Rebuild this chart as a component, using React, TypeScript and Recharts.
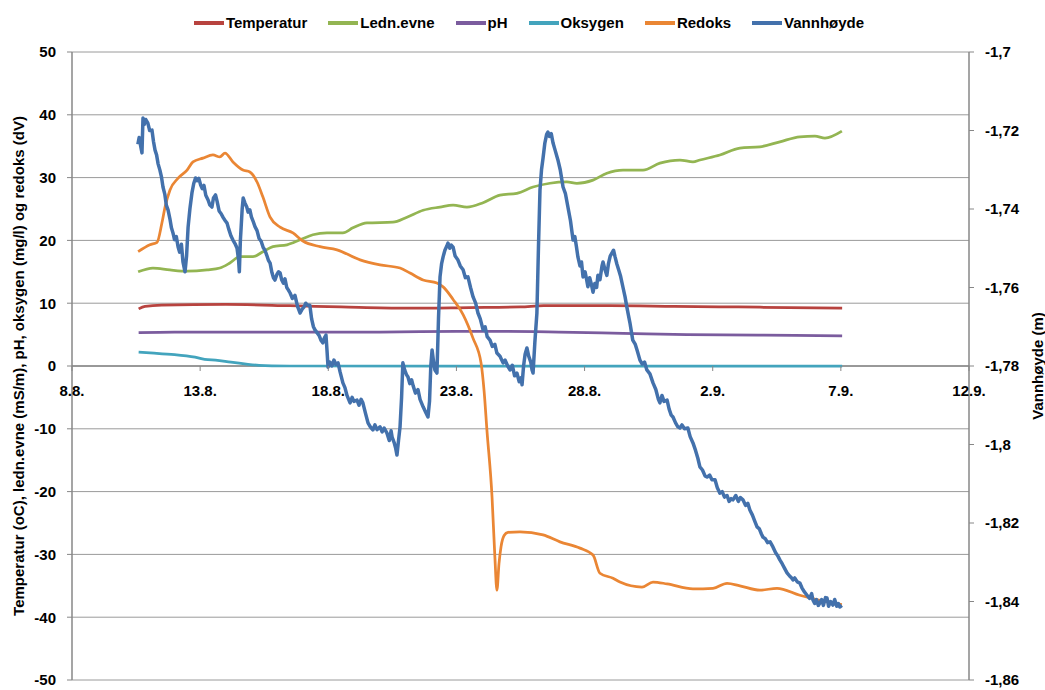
import React from "react";
import { CartesianGrid, Legend, Line, LineChart, ReferenceLine, XAxis, YAxis } from "recharts";

const FONT = '"Liberation Sans", Arial, sans-serif';

// x = days after 8.8.
const dateTicks = [0, 5, 10, 15, 20, 25, 30, 35];
const dateLabels = ["8.8.", "13.8.", "18.8.", "23.8.", "28.8.", "2.9.", "7.9.", "12.9."];
const leftTicks = [-50, -40, -30, -20, -10, 0, 10, 20, 30, 40, 50];
const rightTicks = [-1.86, -1.84, -1.82, -1.8, -1.78, -1.76, -1.74, -1.72, -1.7];

const temperaturPoints: [number, number][] = [
  [2.6, 9.1], [2.85, 9.5], [3.5, 9.7], [6, 9.8], [8.5, 9.6], [10.5, 9.4], [13, 9.2], [15.5, 9.3],
  [17.5, 9.4], [18.4, 9.6], [21, 9.6], [23.5, 9.5], [26, 9.4], [28, 9.3], [30.05, 9.2],
];

const lednevnePoints: [number, number][] = [
  [2.58, 15.0], [3.16, 15.6], [3.82, 15.3], [4.49, 15.1], [5.27, 15.3], [5.77, 15.6], [6.16, 16.4],
  [6.55, 17.4], [7.06, 17.4], [7.45, 18.2], [7.84, 19.0], [8.39, 19.3], [8.9, 20.1], [9.4, 20.9],
  [9.95, 21.2], [10.57, 21.2], [10.96, 22.0], [11.51, 22.8], [12.52, 22.9], [13.07, 23.7],
  [13.7, 24.8], [14.36, 25.3], [14.87, 25.6], [15.41, 25.3], [16.04, 26.0], [16.7, 27.2],
  [17.36, 27.5], [17.99, 28.5], [18.65, 29.1], [19.31, 29.3], [19.7, 29.1], [20.33, 29.6],
  [20.87, 30.7], [21.5, 31.2], [22.28, 31.2], [22.94, 32.3], [23.72, 32.8], [24.23, 32.5],
  [24.5, 32.8], [25.28, 33.6], [26.06, 34.7], [26.84, 34.9], [27.62, 35.7], [28.4, 36.5],
  [28.99, 36.6], [29.38, 36.3], [30.04, 37.4],
];

const phPoints: [number, number][] = [
  [2.6, 5.3], [4, 5.4], [8, 5.4], [12, 5.4], [15, 5.5], [17, 5.5], [19, 5.4], [21.5, 5.2],
  [24, 5.0], [27, 4.9], [30.05, 4.8],
];

const oksygenPoints: [number, number][] = [
  [2.6, 2.2], [3.2, 2.05], [4, 1.8], [4.8, 1.4], [5.3, 1.0], [5.6, 0.95], [6.2, 0.6], [6.8, 0.3],
  [7.3, 0.1], [7.8, 0.02], [8.5, 0], [15, 0], [20, 0], [25, 0], [30.05, 0],
];

const redoksPoints: [number, number][] = [
  [2.58, 18.2], [3.04, 19.3], [3.32, 19.7], [3.51, 22.8], [3.63, 25.3], [3.82, 28.0], [4.14, 29.9],
  [4.49, 31.2], [4.72, 32.5], [5.11, 33.1], [5.5, 33.6], [5.77, 33.3], [5.97, 33.9], [6.28, 32.5],
  [6.67, 31.2], [6.94, 30.9], [7.22, 29.3], [7.45, 26.9], [7.73, 23.7], [8.12, 22.1], [8.62, 21.2],
  [9.01, 19.9], [9.68, 19.0], [10.34, 18.5], [11.24, 16.9], [12.02, 16.1], [12.8, 15.6],
  [13.19, 14.8], [13.7, 13.7], [14.24, 13.2], [14.48, 12.6], [14.87, 10.6], [15.26, 8.2],
  [15.65, 4.4], [15.96, 0.5], [16.08, -4.0], [16.19, -10.2], [16.39, -20.9], [16.5, -30.4],
  [16.58, -35.7], [16.66, -31.5], [16.74, -28.8], [16.86, -27.0], [17.01, -26.5], [17.48, -26.4],
  [18.38, -26.9], [19.04, -28.0], [19.82, -29.0], [20.33, -30.1], [20.6, -33.0], [21.11, -33.8],
  [21.38, -34.4], [22.24, -35.2], [22.67, -34.4], [23.22, -34.7], [24.23, -35.5], [25.01, -35.4],
  [25.56, -34.6], [26.06, -35.0], [26.84, -35.7], [27.51, -35.4], [28.4, -36.5], [29.18, -37.3],
  [30.04, -38.0],
];

const vannhoydePoints: [number, number][] = [
  [2.57, -1.7235], [2.62, -1.7218], [2.68, -1.724], [2.73, -1.7257], [2.77, -1.7168], [2.82, -1.7185],
  [2.88, -1.7172], [2.96, -1.7181], [3.03, -1.72], [3.12, -1.7199], [3.18, -1.7228], [3.24, -1.725],
  [3.3, -1.7262], [3.36, -1.7285], [3.43, -1.7301], [3.49, -1.7318], [3.55, -1.7344], [3.62, -1.7362],
  [3.68, -1.739], [3.75, -1.7403], [3.82, -1.7425], [3.88, -1.7448], [3.94, -1.7461], [4.0, -1.7478],
  [4.07, -1.747], [4.14, -1.7497], [4.2, -1.751], [4.27, -1.749], [4.33, -1.7535], [4.41, -1.756],
  [4.47, -1.752], [4.53, -1.7446], [4.6, -1.74], [4.68, -1.7359], [4.75, -1.7335], [4.82, -1.7321],
  [4.88, -1.7328], [4.95, -1.7322], [5.02, -1.7339], [5.08, -1.7348], [5.15, -1.734], [5.22, -1.7365],
  [5.31, -1.7377], [5.38, -1.739], [5.46, -1.7395], [5.52, -1.7372], [5.6, -1.7364], [5.66, -1.738],
  [5.74, -1.7405], [5.82, -1.7412], [5.9, -1.7422], [5.98, -1.743], [6.05, -1.7436], [6.12, -1.7452],
  [6.2, -1.7468], [6.28, -1.7479], [6.36, -1.7488], [6.44, -1.75], [6.5, -1.753], [6.53, -1.756],
  [6.57, -1.748], [6.6, -1.7446], [6.64, -1.74], [6.68, -1.7372], [6.75, -1.7385], [6.82, -1.7395],
  [6.87, -1.7408], [6.94, -1.7402], [7.0, -1.742], [7.06, -1.743], [7.14, -1.7445], [7.22, -1.7455],
  [7.3, -1.7475], [7.38, -1.7482], [7.46, -1.7498], [7.53, -1.7505], [7.6, -1.7518], [7.66, -1.753],
  [7.73, -1.7538], [7.8, -1.7562], [7.86, -1.7575], [7.92, -1.7581], [8.0, -1.7566], [8.06, -1.756],
  [8.12, -1.7563], [8.18, -1.758], [8.25, -1.7589], [8.31, -1.7578], [8.38, -1.76], [8.44, -1.7606],
  [8.51, -1.7614], [8.6, -1.7628], [8.7, -1.762], [8.8, -1.7648], [8.9, -1.7665], [8.98, -1.7655],
  [9.05, -1.765], [9.12, -1.764], [9.2, -1.7645], [9.28, -1.7645], [9.35, -1.768], [9.42, -1.77],
  [9.48, -1.7708], [9.56, -1.7715], [9.64, -1.7722], [9.72, -1.7735], [9.79, -1.7741], [9.85, -1.7728],
  [9.91, -1.7721], [9.95, -1.776], [9.99, -1.7803], [10.06, -1.779], [10.14, -1.78], [10.22, -1.7785],
  [10.3, -1.7796], [10.38, -1.7792], [10.46, -1.7815], [10.57, -1.7843], [10.65, -1.7855], [10.73, -1.7875],
  [10.85, -1.7894], [10.93, -1.788], [11.0, -1.789], [11.12, -1.7887], [11.2, -1.79], [11.28, -1.7885],
  [11.35, -1.7894], [11.45, -1.792], [11.55, -1.7945], [11.64, -1.7955], [11.74, -1.7963], [11.82, -1.795],
  [11.9, -1.7962], [12.02, -1.7955], [12.1, -1.7968], [12.18, -1.7958], [12.29, -1.7971], [12.38, -1.799],
  [12.45, -1.7965], [12.49, -1.7981], [12.57, -1.7995], [12.63, -1.801], [12.68, -1.8027], [12.74, -1.799],
  [12.8, -1.7955], [12.86, -1.788], [12.91, -1.7792], [12.98, -1.781], [13.05, -1.7822], [13.11, -1.7828],
  [13.18, -1.7845], [13.25, -1.7835], [13.31, -1.785], [13.4, -1.7869], [13.5, -1.786], [13.58, -1.7885],
  [13.7, -1.7904], [13.8, -1.7918], [13.89, -1.793], [13.95, -1.789], [14.0, -1.78], [14.05, -1.7759],
  [14.1, -1.7785], [14.16, -1.781], [14.24, -1.7818], [14.3, -1.768], [14.36, -1.7573], [14.42, -1.754],
  [14.48, -1.7522], [14.55, -1.7505], [14.62, -1.7495], [14.67, -1.7487], [14.74, -1.75], [14.8, -1.7492],
  [14.87, -1.7497], [14.95, -1.752], [15.06, -1.753], [15.15, -1.7545], [15.26, -1.7555], [15.35, -1.7575],
  [15.45, -1.7573], [15.55, -1.76], [15.65, -1.7624], [15.75, -1.764], [15.84, -1.7665], [15.93, -1.768],
  [16.04, -1.7708], [16.12, -1.77], [16.2, -1.7725], [16.31, -1.7734], [16.4, -1.775], [16.5, -1.7745],
  [16.58, -1.7767], [16.7, -1.7775], [16.82, -1.7792], [16.9, -1.7785], [17.0, -1.78], [17.09, -1.781],
  [17.18, -1.7798], [17.27, -1.7825], [17.36, -1.7818], [17.45, -1.784], [17.52, -1.783], [17.56, -1.7848],
  [17.62, -1.78], [17.68, -1.777], [17.75, -1.7754], [17.82, -1.7775], [17.9, -1.779], [17.95, -1.781],
  [17.99, -1.7818], [18.06, -1.774], [18.14, -1.7665], [18.2, -1.75], [18.26, -1.7352], [18.32, -1.73],
  [18.38, -1.727], [18.45, -1.7232], [18.52, -1.721], [18.57, -1.7204], [18.63, -1.7215], [18.7, -1.7208],
  [18.77, -1.7232], [18.85, -1.725], [18.96, -1.7275], [19.05, -1.73], [19.16, -1.7344], [19.25, -1.736],
  [19.35, -1.7395], [19.45, -1.743], [19.55, -1.7479], [19.62, -1.747], [19.68, -1.7495], [19.74, -1.7522],
  [19.82, -1.7545], [19.88, -1.7535], [19.94, -1.7573], [20.02, -1.756], [20.08, -1.758], [20.13, -1.7598],
  [20.2, -1.7575], [20.26, -1.759], [20.33, -1.7612], [20.4, -1.759], [20.47, -1.76], [20.52, -1.7569],
  [20.6, -1.758], [20.68, -1.7545], [20.72, -1.7535], [20.8, -1.7555], [20.87, -1.7569], [20.93, -1.754],
  [21.0, -1.752], [21.07, -1.7512], [21.13, -1.7505], [21.19, -1.7522], [21.26, -1.754], [21.33, -1.7555],
  [21.4, -1.757], [21.5, -1.76], [21.58, -1.7624], [21.65, -1.765], [21.77, -1.769], [21.88, -1.7734],
  [21.98, -1.7745], [22.05, -1.776], [22.16, -1.7785], [22.25, -1.7795], [22.34, -1.779], [22.43, -1.781],
  [22.55, -1.782], [22.67, -1.7843], [22.78, -1.786], [22.88, -1.7885], [22.94, -1.7894], [23.02, -1.7875],
  [23.1, -1.789], [23.22, -1.7887], [23.3, -1.791], [23.38, -1.7925], [23.45, -1.793], [23.55, -1.7945],
  [23.64, -1.7955], [23.72, -1.7958], [23.8, -1.795], [23.9, -1.796], [24.03, -1.7958], [24.12, -1.798],
  [24.23, -1.7996], [24.33, -1.8015], [24.42, -1.8035], [24.5, -1.8057], [24.6, -1.8065], [24.7, -1.808],
  [24.78, -1.8083], [24.88, -1.8078], [24.97, -1.809], [25.09, -1.809], [25.18, -1.811], [25.28, -1.8124],
  [25.37, -1.812], [25.46, -1.8134], [25.56, -1.813], [25.64, -1.8145], [25.72, -1.8138], [25.79, -1.8141],
  [25.9, -1.813], [26.0, -1.8145], [26.08, -1.8135], [26.18, -1.8141], [26.28, -1.8155], [26.37, -1.815],
  [26.45, -1.8167], [26.55, -1.818], [26.64, -1.8195], [26.73, -1.821], [26.82, -1.8215], [26.9, -1.8228],
  [26.96, -1.8236], [27.05, -1.824], [27.14, -1.825], [27.24, -1.8248], [27.35, -1.8261], [27.45, -1.8275],
  [27.55, -1.8285], [27.62, -1.8294], [27.72, -1.8305], [27.8, -1.8315], [27.9, -1.8327], [28.0, -1.8335],
  [28.08, -1.834], [28.13, -1.8345], [28.2, -1.834], [28.3, -1.835], [28.4, -1.8353], [28.48, -1.8365],
  [28.57, -1.8375], [28.68, -1.8384], [28.78, -1.8392], [28.86, -1.838], [28.91, -1.8396], [28.98, -1.8405],
  [29.05, -1.8395], [29.12, -1.841], [29.18, -1.8404], [29.25, -1.8395], [29.32, -1.841], [29.4, -1.839],
  [29.46, -1.8391], [29.52, -1.8412], [29.6, -1.84], [29.69, -1.8409], [29.76, -1.8395], [29.84, -1.8412],
  [29.9, -1.8405], [29.96, -1.8414], [30.04, -1.841],
];

const series = [
  { name: "Temperatur", color: "#B8433F", points: temperaturPoints, axis: "left", width: 2.75, type: "monotone" },
  { name: "Ledn.evne", color: "#93B552", points: lednevnePoints, axis: "left", width: 2.75, type: "monotone" },
  { name: "pH", color: "#7B5C9E", points: phPoints, axis: "left", width: 2.75, type: "monotone" },
  { name: "Oksygen", color: "#43A4BD", points: oksygenPoints, axis: "left", width: 2.75, type: "monotone" },
  { name: "Redoks", color: "#EA8634", points: redoksPoints, axis: "left", width: 2.75, type: "monotone" },
  { name: "Vannhøyde", color: "#4371AC", points: vannhoydePoints, axis: "right", width: 3.5, type: "linear" },
] as const;

const PLOT_TOP = 52;
const PLOT_BOTTOM = 680;
const ZERO_Y = (PLOT_TOP + PLOT_BOTTOM) / 2;

const formatMeters = (v: number) => String(Number(v.toFixed(2))).replace(".", ",");

function DateTick(props: any) {
  const { x, payload } = props;
  const label = dateLabels[dateTicks.indexOf(payload.value)];
  return (
    <g>
      <line x1={x} y1={ZERO_Y} x2={x} y2={ZERO_Y + 5} stroke="#878787" strokeWidth={1} />
      <text x={x} y={ZERO_Y + 30} textAnchor="middle" fontFamily={FONT} fontSize={15} fontWeight="bold" fill="#000">
        {label}
      </text>
    </g>
  );
}

function LegendContent() {
  return (
    <div
      style={{
        height: 48,
        boxSizing: "border-box",
        paddingTop: 9,
        paddingLeft: 13,
        display: "flex",
        justifyContent: "center",
        alignItems: "flex-start",
        fontFamily: FONT,
        fontSize: 15,
        fontWeight: "bold",
        color: "#000",
      }}
    >
      {series.map((s, i) => (
        <div key={s.name} style={{ display: "flex", alignItems: "center", height: 20, marginLeft: i ? 21 : 0 }}>
          <svg width={30} height={4}>
            <line x1={0} y1={2} x2={30} y2={2} stroke={s.color} strokeWidth={4} />
          </svg>
          <span style={{ marginLeft: 2, lineHeight: "20px" }}>{s.name}</span>
        </div>
      ))}
    </div>
  );
}

function AxisTitle({ viewBox, text, dx }: any) {
  const cx = viewBox.x + dx;
  const cy = viewBox.y + viewBox.height / 2;
  return (
    <text
      x={cx}
      y={cy}
      transform={`rotate(-90, ${cx}, ${cy})`}
      textAnchor="middle"
      dominantBaseline="central"
      fontFamily={FONT}
      fontSize={15}
      fontWeight="bold"
      fill="#000"
    >
      {text}
    </text>
  );
}

export default function App() {
  return (
    <div style={{ position: "absolute", left: 0, top: 0, background: "#fff" }}>
      <LineChart width={1045} height={690} margin={{ top: 4, right: 0, bottom: 0, left: 0 }}>
        <Legend verticalAlign="top" align="center" content={() => <LegendContent />} />
        <CartesianGrid yAxisId="left" vertical={false} stroke="#9a9a9a" strokeWidth={1} />
        <XAxis
          type="number"
          dataKey="day"
          domain={[0, 35]}
          ticks={dateTicks}
          allowDataOverflow
          height={10}
          axisLine={false}
          tickLine={false}
          tickSize={0}
          tickMargin={0}
          tick={<DateTick />}
          interval={0}
        />
        <YAxis
          yAxisId="left"
          domain={[-50, 50]}
          ticks={leftTicks}
          width={72}
          interval={0}
          axisLine={{ stroke: "#878787", strokeWidth: 1.5 }}
          tickLine={{ stroke: "#878787" }}
          tickSize={5}
          tickMargin={11}
          tick={{ fill: "#000", fontSize: 15, fontWeight: "bold", fontFamily: FONT }}
          label={(p: any) => (
            <AxisTitle viewBox={p.viewBox} dx={18} text="Temperatur (oC), ledn.evne (mS/m), pH, oksygen (mg/l) og redoks (dV)" />
          )}
        />
        <YAxis
          yAxisId="right"
          orientation="right"
          domain={[-1.86, -1.7]}
          ticks={rightTicks}
          width={76}
          interval={0}
          axisLine={{ stroke: "#878787", strokeWidth: 1.5 }}
          tickLine={{ stroke: "#878787" }}
          tickSize={5}
          tickMargin={11}
          tickFormatter={formatMeters}
          tick={{ fill: "#000", fontSize: 15, fontWeight: "bold", fontFamily: FONT }}
          label={(p: any) => <AxisTitle viewBox={p.viewBox} dx={68} text="Vannhøyde (m)" />}
        />
        <ReferenceLine yAxisId="left" y={0} stroke="#878787" strokeWidth={1.5} />
        {series.map((s) => (
          <Line
            key={s.name}
            yAxisId={s.axis}
            data={s.points.map(([day, value]) => ({ day, value }))}
            dataKey="value"
            name={s.name}
            type={s.type}
            stroke={s.color}
            strokeWidth={s.width}
            strokeLinejoin="round"
            dot={false}
            activeDot={false}
            isAnimationActive={false}
          />
        ))}
      </LineChart>
    </div>
  );
}
